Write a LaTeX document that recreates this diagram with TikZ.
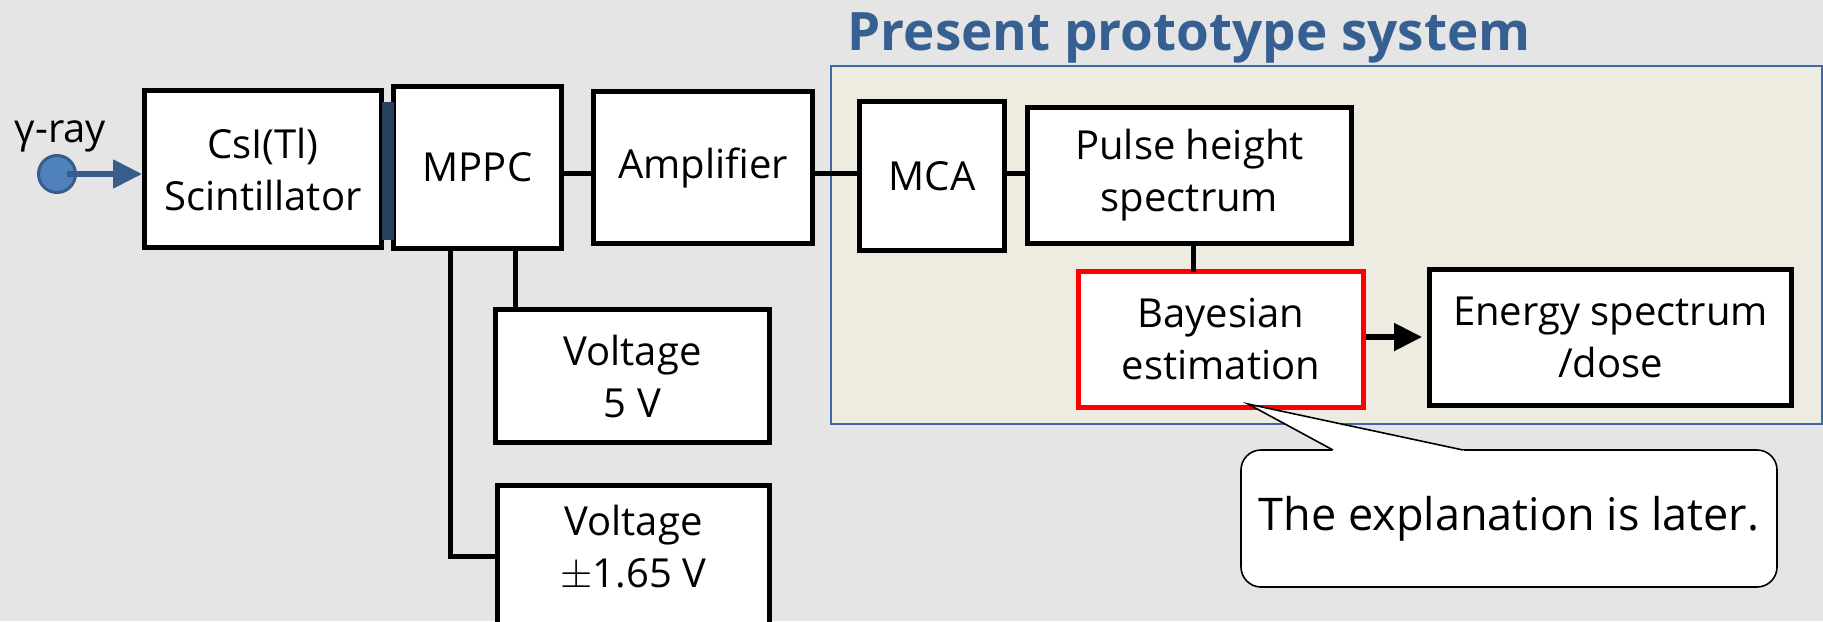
\documentclass[tikz,border=0pt]{standalone}
\usepackage{fontspec}
\setmainfont{Open Sans}
\usetikzlibrary{arrows.meta}
\definecolor{bg}{RGB}{229,229,229}
\definecolor{tanfill}{RGB}{238,236,225}
\definecolor{frameblue}{RGB}{62,105,165}
\definecolor{titleblue}{RGB}{54,96,146}
\definecolor{dotfill}{RGB}{79,129,189}
\definecolor{dotline}{RGB}{56,93,138}
\definecolor{navy}{RGB}{40,64,96}
\begin{document}
\begin{tikzpicture}[x=0.5pt,y=-0.5pt,
  blk/.style={draw=black, line width=2.5pt, fill=white, inner sep=0pt, align=center,
    font=\fontsize{20}{26}\selectfont},
  wire/.style={line width=2.5pt, line cap=rect},
  protobox/.style={draw=frameblue, line width=1pt, fill=tanfill, inner sep=0pt},
  calloutbox/.style={draw=black, line width=0.8pt, fill=white, rounded corners=10pt,
    inner sep=0pt, font=\fontsize{22.5}{28}\selectfont},
  bigarrow/.style={line width=2.6pt, -{Triangle[length=14pt,width=13.5pt]}},
  rayarrow/.style={draw=dotline, line width=2.6pt, -{Triangle[length=14.5pt,width=14pt]}}
]
\useasboundingbox (0,0) rectangle (1823,621);
\fill[bg] (0,0) rectangle (1823,621);
\clip (0,0) rectangle (1823,621);

% prototype region
\node[protobox, minimum width=495.5pt, minimum height=179pt] (proto) at (1326.5,245) {};
\node[anchor=base, text=titleblue, font=\fontsize{26.5}{30}\selectfont\bfseries] (title) at (1189,50) {Present prototype system};

% helper coordinates
\coordinate (row) at (0,173);
\coordinate (row2) at (0,337);
\coordinate (colA) at (450,0);
\coordinate (colB) at (515,0);
\coordinate (colC) at (1193,0);

% blocks
\node[blk, minimum width=118.5pt, minimum height=78.5pt] (csi) at (263,169) {CsI(Tl)\\Scintillator};
\node[blk, minimum width=84pt, minimum height=81pt] (mppc) at (477.5,167.5) {MPPC};
\node[blk, minimum width=109.5pt, minimum height=76pt] (amp) at (703,167.5) {Amplifier};
\node[blk, minimum width=72.5pt, minimum height=74.5pt] (mca) at (932,176) {MCA};
\node[blk, minimum width=162pt, minimum height=68pt] (pulse) at (1189.5,175.5) {Pulse height\\spectrum};
\node[blk, draw=red, minimum width=142.5pt, minimum height=68pt] (bayes) at (1221,339.5) {Bayesian\\estimation};
\node[blk, minimum width=181pt, minimum height=68pt] (energy) at (1610.5,337.5) {Energy spectrum\\/dose};
\node[blk, minimum width=137pt, minimum height=66.5pt] (v5) at (632.5,376) {Voltage\\5 V};
\node[blk, minimum width=136pt, minimum height=71pt] (v165) at (633.5,556.5) {Voltage\\$\pm$1.65 V\\[-16pt]\mbox{}};

% optical coupling strip
\node[fill=navy, inner sep=0pt, minimum width=6pt, minimum height=69pt] (coupler) at (388,171) {};

% connectors
\draw[wire] (mppc.east |- row) -- (amp.west |- row);
\draw[wire] (amp.east |- row) -- (mca.west |- row);
\draw[wire] (mca.east |- row) -- (pulse.west |- row);
\draw[wire] (pulse.south -| colC) -- (bayes.north -| colC);
\draw[wire] (mppc.south -| colB) -- (v5.north -| colB);
\draw[wire, line join=miter] (mppc.south -| colA) |- (v165.west);
\draw[bigarrow, shorten >=2.5pt] (bayes.east |- row2) -- (energy.west |- row2);

% gamma ray source
\node[anchor=base, font=\fontsize{20}{24}\selectfont] (glabel) at (60.5,142) {γ-ray};
\node[circle, draw=dotline, line width=1.5pt, fill=dotfill, minimum size=18.5pt, inner sep=0pt] (gamma) at (57,174) {};
\draw[rayarrow] ([xshift=5pt]gamma.center) -- (csi.west |- gamma.center);

% callout
\node[calloutbox, minimum width=268pt, minimum height=68.5pt] (callout) at (1509,518.5) {The explanation is later.};
\coordinate (tip) at (1248,404);
\coordinate (pl) at (1333,450);
\coordinate (pr) at (1463,450);
\fill[white] (1329,452.5) -- (pl) -- (tip) -- (pr) -- (1467,452.5) -- cycle;
\draw[line width=0.8pt, line join=miter] (pl) -- (tip) -- (pr);
\end{tikzpicture}
\end{document}
